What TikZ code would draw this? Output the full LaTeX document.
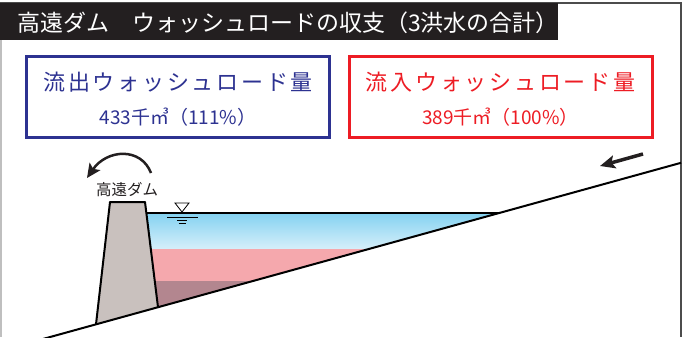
\documentclass[tikz,border=0pt]{standalone}
\usepackage{fontspec}
\newfontfamily\jp{Noto Sans CJK JP}
\newfontfamily\jpwide[LetterSpace=12.5]{Noto Sans CJK JP}
\usetikzlibrary{arrows.meta,positioning,calc}
\definecolor{navy}{HTML}{2D3291}
\definecolor{scarlet}{HTML}{ED1C24}
\definecolor{ink}{HTML}{231F20}
\definecolor{concrete}{HTML}{C9C1BE}
\definecolor{waterhi}{HTML}{84D2F1}
\definecolor{waterlo}{HTML}{D6EFFA}
\definecolor{washpink}{HTML}{F5A8AD}
\definecolor{washdeep}{HTML}{B3868F}
\tikzset{
  tbar/.style={fill=ink,draw=none},
  ttext/.style={text=white,font=\jp\fontsize{23}{27}\selectfont,inner sep=0pt,anchor=west},
  lbox/.style={draw,line width=3pt,minimum width=303pt,minimum height=81pt,inner sep=0pt},
  obox/.style={lbox,draw=navy},
  ibox/.style={lbox,draw=scarlet},
  hname/.style={font=\jpwide\fontsize{22}{26}\selectfont,inner sep=0pt},
  hval/.style={font=\jp\fontsize{19}{22}\selectfont,inner sep=0pt},
  damtext/.style={font=\jp\fontsize{15.5}{18}\selectfont,inner sep=0pt,text=ink},
  spilledge/.style={-{Stealth[length=14pt,width=13pt,inset=3pt]},line width=2.5pt,color=ink},
  flowedge/.style={-{Stealth[length=15pt,width=13pt,inset=3pt]},line width=3.5pt,color=ink},
  ground/.style={line width=2pt,color=black},
}

\begin{document}
\begin{tikzpicture}[x=1pt,y=-1pt]
  \useasboundingbox (0,0) rectangle (684,337);

  % frame and heading
  \draw[black!25,line width=1.5pt] (0.75,3) -- (0.75,337);
  \draw[black!70,line width=1.5pt] (0,3) -- (681,3) -- (681,337);
  \fill[tbar] (0,3) rectangle (558,40);
  \node[ttext] (title) at (17,23) {高遠ダム　ウォッシュロードの収支（3洪水の合計）};

  % totals
  \node[obox] (outbox) at (178,97) {};
  \node[hname,text=navy] (outname) at (178,82) {流出ウォッシュロード量};
  \node[hval,text=navy]  (outval)  at (178,117) {433千㎥（111\%）};

  \node[ibox] (inbox) at (500.5,97) {};
  \node[hname,text=scarlet] (inname) at (500.5,82) {流入ウォッシュロード量};
  \node[hval,text=scarlet]  (inval)  at (500.5,117) {389千㎥（100\%）};

  % reservoir layers
  \begin{scope}
    \clip (146.4,213) -- (158,307.2) -- (499.3,213) -- cycle;
    \shade[top color=waterhi,bottom color=waterlo] (140,213) rectangle (510,249);
    \fill[washpink] (140,249) rectangle (510,281);
    \fill[washdeep] (140,281) rectangle (510,312);
  \end{scope}
  \draw[line width=1.5pt] (146.4,213) -- (499.3,213);

  % water level mark
  \draw[line width=0.8pt,fill=white] (175,203) -- (189,203) -- (182,212) -- cycle;
  \draw[line width=1pt] (167,217) -- (198,217);
  \draw[line width=1pt] (177,220.5) -- (187,220.5);
  \draw[line width=1pt] (178.5,223.5) -- (185.5,223.5);

  % dam body and valley floor
  \draw[line width=2pt,fill=concrete,line join=round] (96,324.3) -- (110,202) -- (145,202) -- (158,307.2);
  \draw[ground] (40,339.8) -- (681,162.8);

  \node[damtext] (damname) at (127,190) {高遠ダム};

  % outflow over the dam, inflow from upstream
  \coordinate (spillA) at (151,173);
  \coordinate (spillB) at (87,178);
  \draw[spilledge] (spillA) .. controls (141,147) and (107,149) .. (spillB);

  \coordinate (inA) at (643,154);
  \coordinate (inB) at (600,166);
  \draw[flowedge] (inA) -- (inB);
\end{tikzpicture}
\end{document}
